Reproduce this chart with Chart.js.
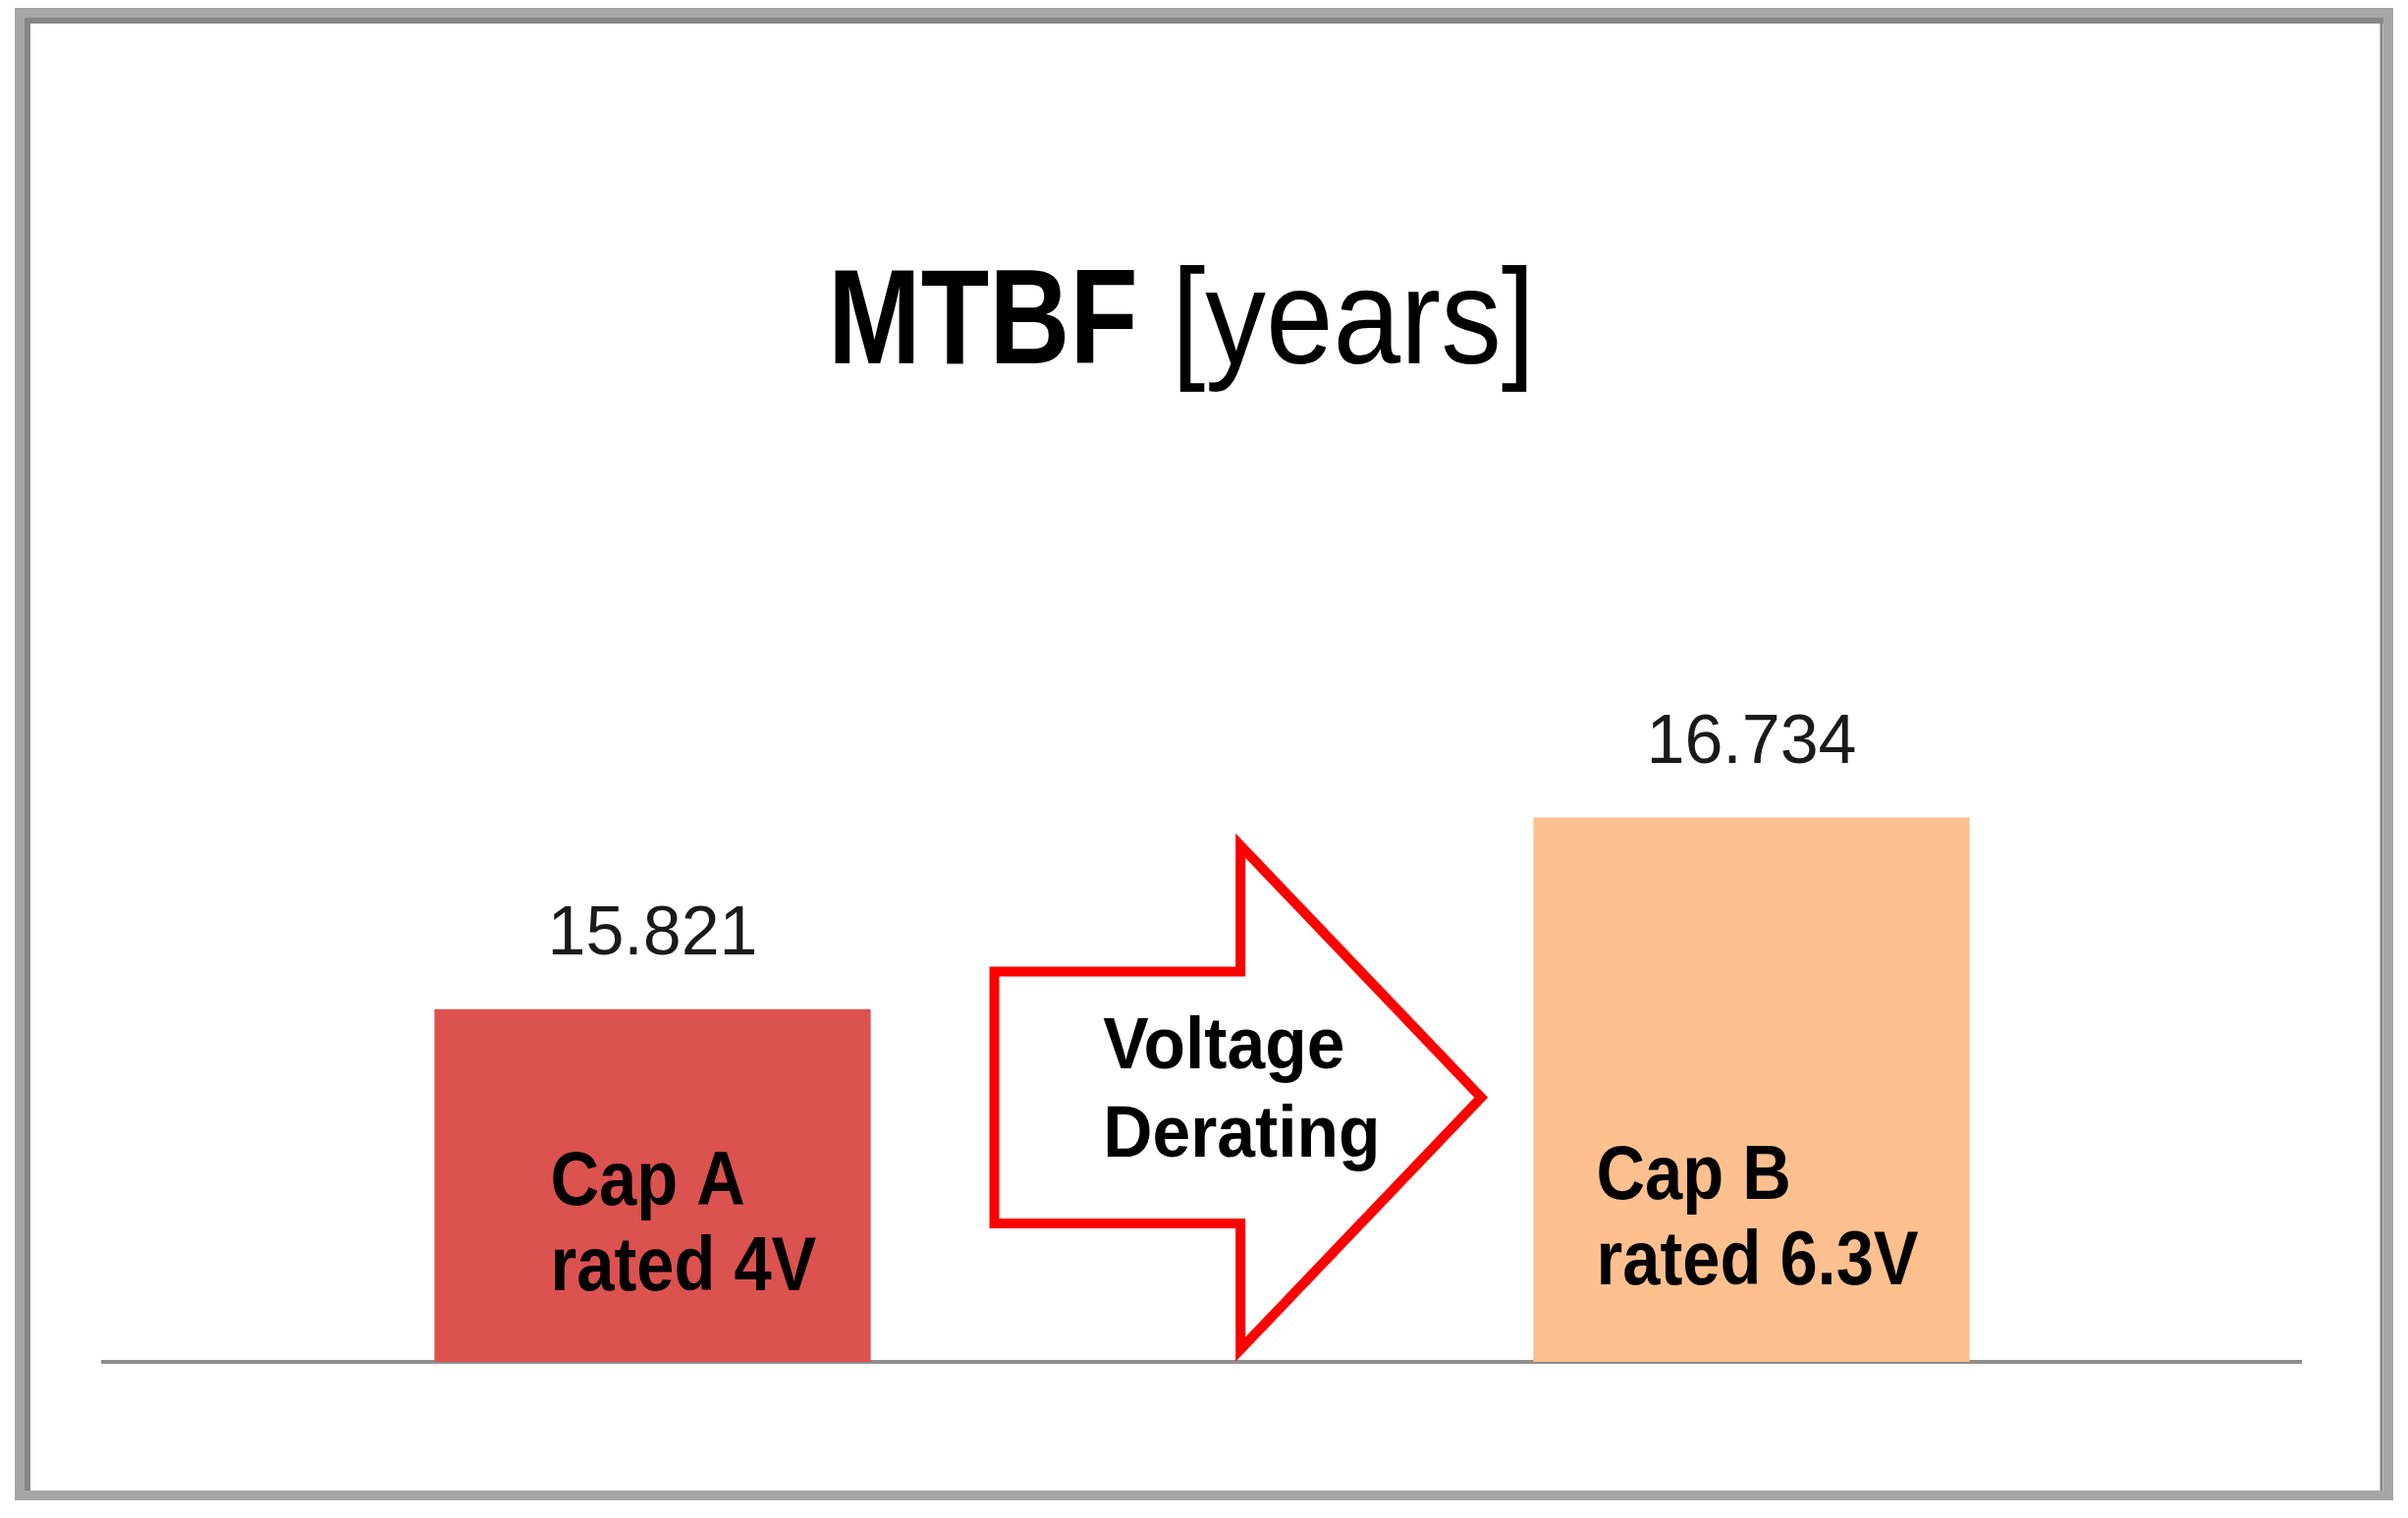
<!DOCTYPE html>
<html>
<head>
<meta charset="utf-8">
<title>MTBF [years]</title>
<script src="https://cdn.jsdelivr.net/npm/chart.js@4.4.1/dist/chart.umd.min.js"></script>
<style>
    html, body { margin: 0; padding: 0; background: #ffffff; }
    #wrap { position: relative; width: 2452px; height: 1546px; }
</style>
</head>
<body>
<div id="wrap"><canvas id="mtbfChart"></canvas></div>
<script>
// chart data
const categories = ['Cap A rated 4V', 'Cap B rated 6.3V'];
const barLines = [['Cap A', 'rated 4V'], ['Cap B', 'rated 6.3V']];
const mtbfYears = [15.821, 16.734];
const arrowText = ['Voltage', 'Derating'];

document.addEventListener("DOMContentLoaded", () => {
    const ctx = document.getElementById('mtbfChart').getContext('2d');

    // text squeezed horizontally to mimic the narrow Office fonts
    function squeezedText(c, text, x, y, font, sx, align) {
        c.save();
        c.font = font;
        const w = c.measureText(text).width * sx;
        let left = x;
        if (align === 'center') left = x - w / 2;
        c.translate(left, y);
        c.scale(sx, 1);
        c.textAlign = 'left';
        c.textBaseline = 'alphabetic';
        c.fillText(text, 0, 0);
        c.restore();
        return w;
    }

    // frame and title
    const framePlugin = {
        id: 'frame',
        beforeDraw(chart) {
            const c = chart.ctx;
            c.save();
            c.fillStyle = '#ffffff';
            c.fillRect(0, 0, chart.width, chart.height);
            c.strokeStyle = '#a6a6a6';
            c.lineWidth = 10;
            c.strokeRect(20, 13, 2412, 1510);
            c.strokeStyle = '#868686';
            c.lineWidth = 6;
            c.beginPath();
            c.moveTo(28, 1518);
            c.lineTo(28, 21);
            c.lineTo(2427, 21);
            c.stroke();
            c.lineWidth = 3;
            c.beginPath();
            c.moveTo(2425, 21);
            c.lineTo(2425, 1518);
            c.stroke();

            // title: bold "MTBF" + regular " [years]"
            c.fillStyle = '#000000';
            const boldFont = 'bold 137px "Liberation Sans", Arial, sans-serif';
            const normFont = '137px "Liberation Sans", Arial, sans-serif';
            let x = 843;
            x += squeezedText(c, 'MTBF', x, 370, boldFont, 0.83, 'left');
            squeezedText(c, ' [years]', x, 370, normFont, 0.9, 'left');
            c.restore();
        }
    };

    // arrow, value labels and in-bar text
    const annotatePlugin = {
        id: 'annotate',
        afterDatasetsDraw(chart) {
            const c = chart.ctx;
            const xs = chart.scales.x;
            const ys = chart.scales.y;
            const x0 = xs.getPixelForValue(0);
            const x1 = xs.getPixelForValue(1);
            const px = f => x0 + f * (x1 - x0);
            const py = v => ys.getPixelForValue(v);
            const meta = chart.getDatasetMeta(0);

            c.save();
            // block arrow between the bars
            c.beginPath();
            c.moveTo(px(0.311), py(16.0));
            c.lineTo(px(0.535), py(16.0));
            c.lineTo(px(0.535), py(16.6));
            c.lineTo(px(0.754), py(15.4));
            c.lineTo(px(0.535), py(14.2));
            c.lineTo(px(0.535), py(14.8));
            c.lineTo(px(0.311), py(14.8));
            c.closePath();
            c.fillStyle = '#ffffff';
            c.fill();
            c.strokeStyle = '#ff0000';
            c.lineWidth = 10;
            c.lineJoin = 'miter';
            c.stroke();

            c.fillStyle = '#000000';
            const arrowFont = 'bold 74px "Liberation Sans", Arial, sans-serif';
            squeezedText(c, arrowText[0], px(0.41), py(15.54), arrowFont, 0.94, 'left');
            squeezedText(c, arrowText[1], px(0.41), py(15.12), arrowFont, 0.94, 'left');

            // value labels above bars
            const valFont = '70px "Liberation Sans", Arial, sans-serif';
            c.fillStyle = '#1a1a1a';
            meta.data.forEach((bar, i) => {
                squeezedText(c, mtbfYears[i].toFixed(3), bar.x, bar.y - 56, valFont, 1, 'center');
            });

            // category text inside bars
            const capFont = 'bold 78px "Liberation Sans", Arial, sans-serif';
            const offsets = [[-104, 0], [-158, -6]];
            c.fillStyle = '#000000';
            meta.data.forEach((bar, i) => {
                const lx = bar.x + offsets[i][0];
                const ly = py(14.89) + offsets[i][1];
                squeezedText(c, barLines[i][0], lx, ly, capFont, 0.88, 'left');
                squeezedText(c, barLines[i][1], lx, ly + 87, capFont, 0.88, 'left');
            });
            c.restore();
        }
    };

    new Chart(ctx, {
        type: 'bar',
        data: {
            labels: categories,
            datasets: [{
                label: 'MTBF [years]',
                data: mtbfYears,
                backgroundColor: ['#dc524f', '#fdc08e'],
                borderWidth: 0,
                categoryPercentage: 0.397,
                barPercentage: 1
            }]
        },
        options: {
            responsive: true,
            maintainAspectRatio: false,
            animation: false,
            layout: {
                padding: { top: 562, bottom: 151, left: 105, right: 109 }
            },
            plugins: {
                legend: { display: false },
                title: { display: false },
                tooltip: { enabled: false }
            },
            scales: {
                x: {
                    grid: { display: false },
                    ticks: { display: false },
                    border: { display: true, color: '#8f8f8f', width: 4 }
                },
                y: {
                    display: false,
                    min: 14.14,
                    max: 18
                }
            }
        },
        plugins: [framePlugin, annotatePlugin]
    });
});
</script>
</body>
</html>
